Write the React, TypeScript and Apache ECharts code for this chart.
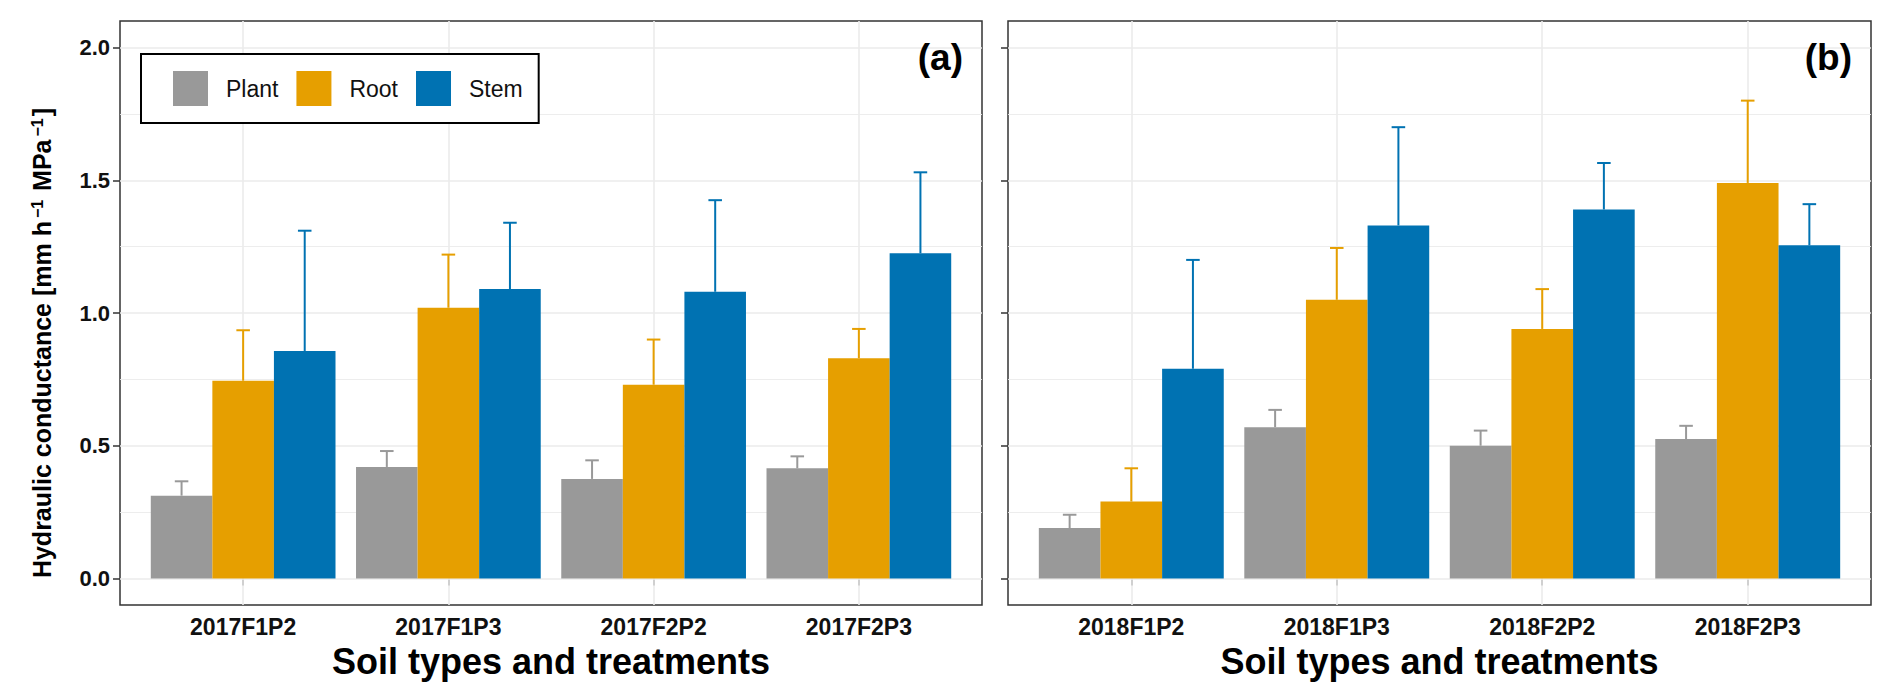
import React, { useEffect, useRef } from "react";
import * as echarts from "echarts";

// ---------- data ----------
const categories2017 = ["2017F1P2", "2017F1P3", "2017F2P2", "2017F2P3"];
const categories2018 = ["2018F1P2", "2018F1P3", "2018F2P2", "2018F2P3"];
const seriesNames = ["Plant", "Root", "Stem"];
const seriesColors = ["#999999", "#E69F00", "#0072B2"];

const plant2017 = [0.312, 0.42, 0.375, 0.415];
const plant2017Upper = [0.366, 0.48, 0.445, 0.46];
const root2017 = [0.745, 1.02, 0.73, 0.83];
const root2017Upper = [0.935, 1.22, 0.9, 0.94];
const stem2017 = [0.857, 1.09, 1.08, 1.225];
const stem2017Upper = [1.31, 1.34, 1.425, 1.53];

const plant2018 = [0.19, 0.57, 0.5, 0.525];
const plant2018Upper = [0.24, 0.635, 0.557, 0.575];
const root2018 = [0.29, 1.05, 0.94, 1.49];
const root2018Upper = [0.415, 1.245, 1.09, 1.8];
const stem2018 = [0.79, 1.33, 1.39, 1.255];
const stem2018Upper = [1.2, 1.7, 1.565, 1.41];

const yTickValues = [0, 0.5, 1, 1.5, 2];
const yMinorValues = [0.25, 0.75, 1.25, 1.75];
const panelLabels = ["(a)", "(b)"];
const xTitle = "Soil types and treatments";

// ---------- layout / style ----------
const FONT = "'Liberation Sans', Arial, Helvetica, sans-serif";
const Y_MIN = -0.1;
const Y_MAX = 2.1;
const TOP = 21;
const HEIGHT = 584;
const PANELS = [
  { left: 120, width: 862 },
  { left: 1008, width: 863 },
];
const GRID_COLOR = "#ebebeb";
const BORDER_COLOR = "#333333";

function makeErrorRenderer(k: number, color: string) {
  return (params: any, api: any) => {
    const ci = api.value(0);
    const base = api.coord([ci, api.value(1)]);
    const top = api.coord([ci, api.value(2)]);
    const band = api.size([1, 0])[0];
    const x = base[0] + (k - 1) * 0.3 * band;
    const half = band * 0.033;
    return {
      type: "group",
      children: [
        {
          type: "line",
          shape: { x1: x, y1: base[1], x2: x, y2: top[1] },
          style: { stroke: color, lineWidth: 2 },
        },
        {
          type: "line",
          shape: { x1: x - half, y1: top[1], x2: x + half, y2: top[1] },
          style: { stroke: color, lineWidth: 2 },
        },
      ],
    };
  };
}

function buildOption() {
  const grids: any[] = [];
  const xAxes: any[] = [];
  const yAxes: any[] = [];
  const series: any[] = [];
  const graphics: any[] = [];

  const panelData = [
    {
      cats: categories2017,
      means: [plant2017, root2017, stem2017],
      uppers: [plant2017Upper, root2017Upper, stem2017Upper],
    },
    {
      cats: categories2018,
      means: [plant2018, root2018, stem2018],
      uppers: [plant2018Upper, root2018Upper, stem2018Upper],
    },
  ];

  PANELS.forEach((pn, p) => {
    const band = pn.width / 4.2;
    const d = panelData[p];
    const fx = 2 * p;
    const dx = 2 * p + 1;

    grids.push({
      left: pn.left,
      top: TOP,
      width: pn.width,
      height: HEIGHT,
      show: true,
      borderColor: BORDER_COLOR,
      borderWidth: 1.5,
      backgroundColor: "transparent",
      containLabel: false,
      outerBoundsMode: "none",
    });
    grids.push({
      left: pn.left + band * 0.1,
      top: TOP,
      width: band * 4,
      height: HEIGHT,
      show: false,
      containLabel: false,
      outerBoundsMode: "none",
    });

    xAxes.push({ gridIndex: fx, type: "value", min: 0, max: 1, show: false });
    xAxes.push({
      gridIndex: dx,
      type: "category",
      data: d.cats,
      axisLine: { show: false },
      axisTick: {
        show: true,
        alignWithLabel: true,
        length: 7,
        lineStyle: { color: BORDER_COLOR, width: 1.5 },
      },
      axisLabel: {
        fontFamily: FONT,
        fontWeight: "bold",
        fontSize: 23,
        color: "#111",
        margin: 10,
      },
      splitLine: { show: false },
      name: xTitle,
      nameLocation: "middle",
      nameGap: 38,
      nameTextStyle: {
        fontFamily: FONT,
        fontWeight: "bold",
        fontSize: 36,
        color: "#000",
      },
    });

    yAxes.push({
      gridIndex: fx,
      type: "value",
      min: Y_MIN,
      max: Y_MAX,
      axisLine: { show: false },
      axisTick: {
        show: true,
        length: 7,
        customValues: yTickValues,
        lineStyle: { color: BORDER_COLOR, width: 1.5 },
      },
      axisLabel: {
        show: p === 0,
        customValues: yTickValues,
        formatter: (v: number) => v.toFixed(1),
        fontFamily: FONT,
        fontWeight: "bold",
        fontSize: 22,
        color: "#111",
        margin: 10,
      },
      splitLine: { show: false },
      ...(p === 0
        ? {
            name: "{b|Hydraulic conductance [mm h}{s|−1}{b| MPa}{s|−1}{b|]}",
            nameLocation: "middle",
            nameGap: 66,
            nameRotate: 90,
            nameTextStyle: {
              padding: [0, 60, 0, 0],
              rich: {
                b: { fontFamily: FONT, fontWeight: "bold", fontSize: 25, color: "#000" },
                s: {
                  fontFamily: FONT,
                  fontWeight: "bold",
                  fontSize: 16,
                  color: "#000",
                  verticalAlign: "top",
                  padding: [0, 2, 0, 3],
                },
              },
            },
          }
        : {}),
    });
    yAxes.push({ gridIndex: dx, type: "value", min: Y_MIN, max: Y_MAX, show: false });

    // horizontal grid lines
    series.push({
      type: "line",
      xAxisIndex: fx,
      yAxisIndex: fx,
      data: [],
      silent: true,
      z: 1,
      markLine: {
        silent: true,
        z: 1,
        symbol: ["none", "none"],
        label: { show: false },
        emphasis: { disabled: true },
        data: [
          ...yTickValues.map((v) => ({
            yAxis: v,
            lineStyle: { color: GRID_COLOR, width: 1.6, type: "solid" },
          })),
          ...yMinorValues.map((v) => ({
            yAxis: v,
            lineStyle: { color: GRID_COLOR, width: 0.9, type: "solid" },
          })),
        ],
      },
    });
    // vertical grid lines at category centres
    series.push({
      type: "line",
      xAxisIndex: dx,
      yAxisIndex: dx,
      data: [],
      silent: true,
      z: 1,
      markLine: {
        silent: true,
        z: 1,
        symbol: ["none", "none"],
        label: { show: false },
        emphasis: { disabled: true },
        lineStyle: { color: GRID_COLOR, width: 1.6, type: "solid" },
        data: d.cats.map((c) => ({ xAxis: c })),
      },
    });

    seriesNames.forEach((name, k) => {
      series.push({
        type: "bar",
        name,
        xAxisIndex: dx,
        yAxisIndex: dx,
        data: d.means[k],
        barGap: "0%",
        barCategoryGap: "10%",
        itemStyle: { color: seriesColors[k] },
        silent: true,
        z: 2,
      });
    });
    seriesNames.forEach((name, k) => {
      series.push({
        type: "custom",
        name: name + " SE",
        xAxisIndex: dx,
        yAxisIndex: dx,
        data: d.means[k].map((v, i) => [i, v, d.uppers[k][i]]),
        encode: { x: 0, y: [1, 2] },
        renderItem: makeErrorRenderer(k, seriesColors[k]),
        silent: true,
        z: 3,
      });
    });

    graphics.push({
      type: "text",
      x: pn.left + pn.width - 19,
      y: 57,
      z: 10,
      style: {
        text: panelLabels[p],
        font: `bold 37px ${FONT}`,
        fill: "#000",
        textAlign: "right",
        textVerticalAlign: "middle",
      },
    });
  });

  return {
    animation: false,
    backgroundColor: "#ffffff",
    textStyle: { fontFamily: FONT },
    grid: grids,
    xAxis: xAxes,
    yAxis: yAxes,
    series,
    graphic: graphics,
    legend: {
      data: seriesNames,
      orient: "horizontal",
      left: 141,
      top: 54,
      icon: "rect",
      itemWidth: 35,
      itemHeight: 35,
      itemGap: 18,
      padding: [17, 16, 17, 32],
      borderColor: "#000",
      borderWidth: 2,
      backgroundColor: "#fff",
      selectedMode: false,
      textStyle: {
        fontFamily: FONT,
        fontSize: 23,
        color: "#111",
        padding: [0, 0, 0, 13],
      },
      z: 10,
    },
  };
}

export default function App() {
  const ref = useRef<HTMLDivElement>(null);
  useEffect(() => {
    if (!ref.current) return;
    const chart = echarts.init(ref.current, null, { renderer: "svg" });
    chart.setOption(buildOption() as any);
    return () => chart.dispose();
  }, []);
  return (
    <div
      ref={ref}
      style={{
        position: "absolute",
        left: 0,
        top: 0,
        width: 1892,
        height: 698,
        background: "#fff",
      }}
    />
  );
}
